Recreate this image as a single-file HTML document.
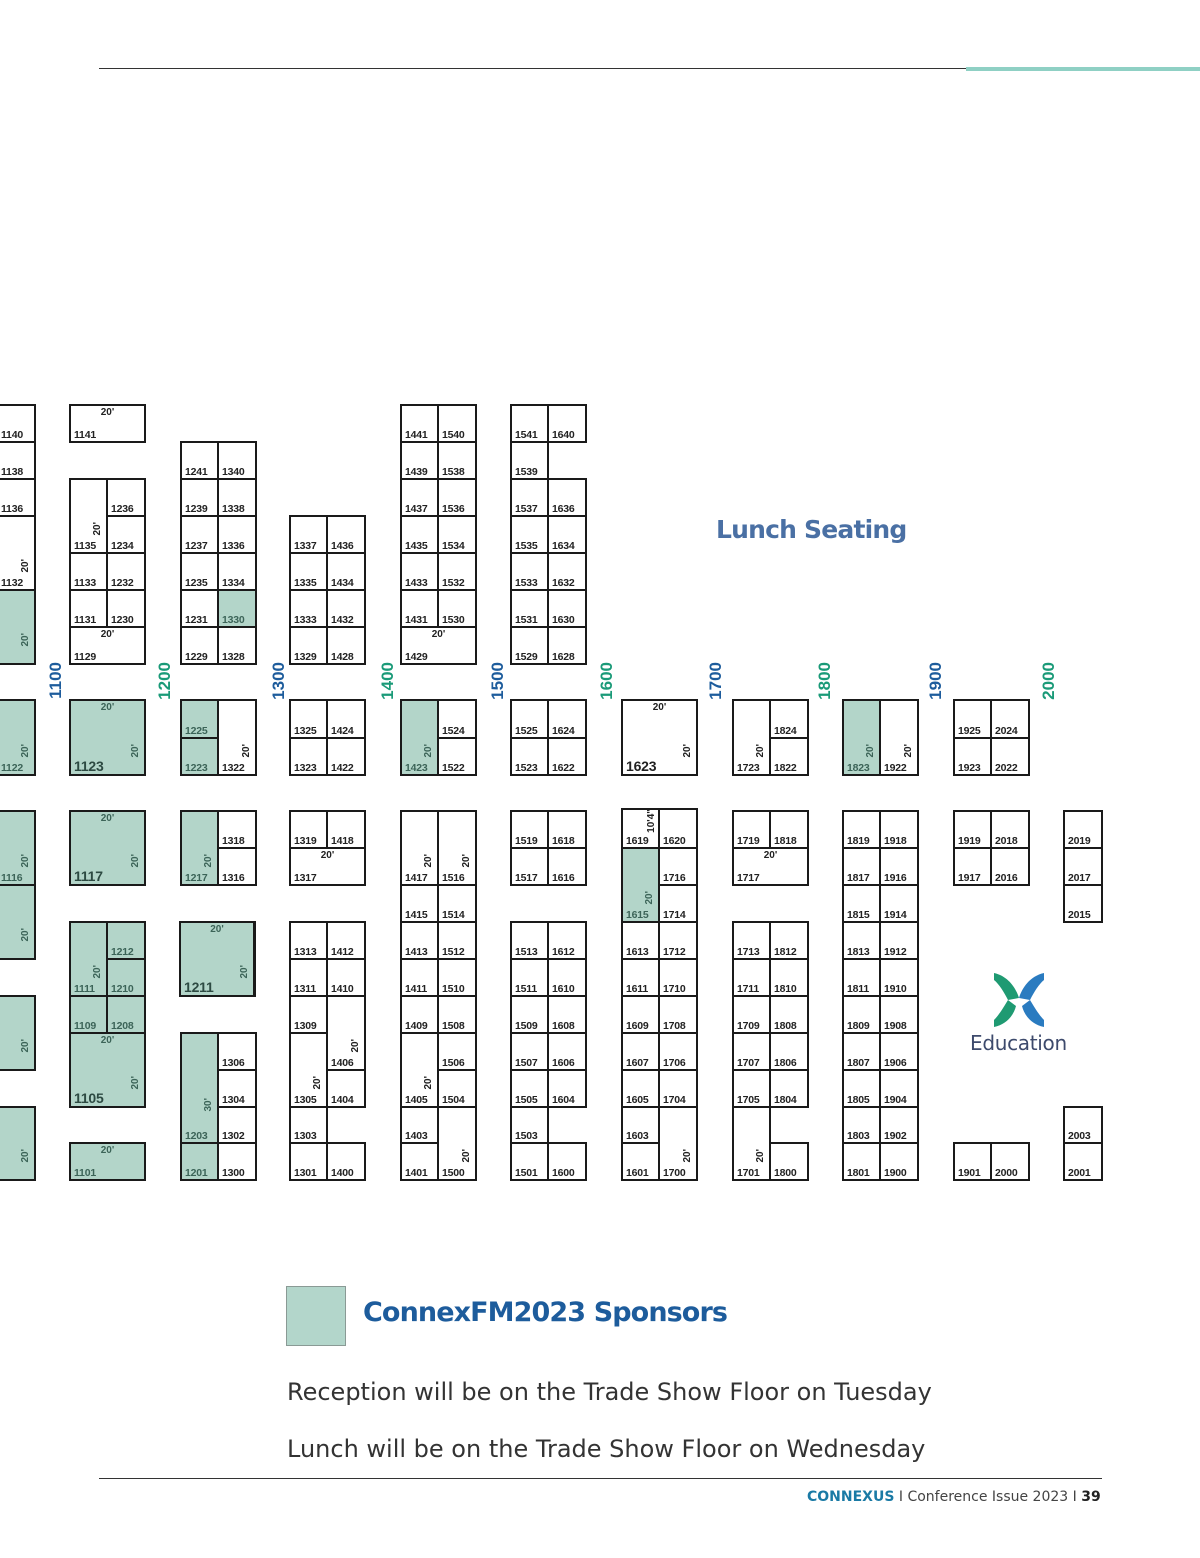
<!DOCTYPE html>
<html><head><meta charset="utf-8"><style>
html,body{margin:0;padding:0;background:#fff}
body{width:1200px;height:1558px;position:relative;overflow:hidden;font-family:"Liberation Sans",sans-serif}
.b{position:absolute;box-sizing:border-box;border:1px solid #1a1a1a;box-shadow:0 0 0 1px #1a1a1a;background:#fff}
.g{background:#b3d5c9}
.b i{position:absolute;left:3px;bottom:0px;font:bold 10.5px "Liberation Sans",sans-serif;font-style:normal;letter-spacing:-0.2px;color:#222;line-height:12px}
.g i{color:#3c6458}
.b i.L{font-size:14px;line-height:16px;color:#2d4a42}
.dt{position:absolute;left:0;right:0;top:1px;text-align:center;font:bold 10px "Liberation Sans",sans-serif;color:#222}
.dv{position:absolute;right:3px;bottom:16px;writing-mode:vertical-rl;transform:rotate(180deg);font:bold 10px "Liberation Sans",sans-serif;color:#222}
.g .dt,.g .dv{color:#3c6458}
.a{position:absolute;font:bold 17px "Liberation Sans",sans-serif;writing-mode:vertical-rl;transform:rotate(180deg);top:662px}
.bl{color:#1d5c9c}.tl{color:#1a9a78}
.x{position:absolute}
</style></head><body>
<div class="x" style="left:99px;top:68px;width:867px;height:1px;background:#333"></div>
<div class="x" style="left:966px;top:67px;width:234px;height:4px;background:#8fd0c4"></div>

<!-- Col A -->
<div class="b" style="left:-3px;top:405px;width:38px;height:37px"><i>1140</i></div>
<div class="b" style="left:-3px;top:442px;width:38px;height:37px"><i>1138</i></div>
<div class="b" style="left:-3px;top:479px;width:38px;height:37px"><i>1136</i></div>
<div class="b" style="left:-3px;top:516px;width:38px;height:74px"><i>1132</i><span class="dv">20'</span></div>
<div class="b g" style="left:-3px;top:590px;width:38px;height:74px"><span class="dv">20'</span></div>
<div class="b g" style="left:-3px;top:700px;width:38px;height:75px"><i>1122</i><span class="dv">20'</span></div>
<div class="b g" style="left:-3px;top:811px;width:38px;height:74px"><i>1116</i><span class="dv">20'</span></div>
<div class="b g" style="left:-3px;top:885px;width:38px;height:74px"><span class="dv">20'</span></div>
<div class="b g" style="left:-3px;top:996px;width:38px;height:74px"><span class="dv">20'</span></div>
<div class="b g" style="left:-3px;top:1107px;width:38px;height:73px"><span class="dv">20'</span></div>

<!-- Col 1100 -->
<div class="b" style="left:70px;top:405px;width:75px;height:37px"><i>1141</i><span class="dt">20'</span></div>
<div class="b" style="left:70px;top:479px;width:37px;height:74px"><i>1135</i><span class="dv">20'</span></div>
<div class="b" style="left:107px;top:479px;width:38px;height:37px"><i>1236</i></div>
<div class="b" style="left:107px;top:516px;width:38px;height:37px"><i>1234</i></div>
<div class="b" style="left:70px;top:553px;width:37px;height:37px"><i>1133</i></div>
<div class="b" style="left:107px;top:553px;width:38px;height:37px"><i>1232</i></div>
<div class="b" style="left:70px;top:590px;width:37px;height:37px"><i>1131</i></div>
<div class="b" style="left:107px;top:590px;width:38px;height:37px"><i>1230</i></div>
<div class="b" style="left:70px;top:627px;width:75px;height:37px"><i>1129</i><span class="dt">20'</span></div>
<div class="b g" style="left:70px;top:700px;width:75px;height:75px"><i class="L">1123</i><span class="dt">20'</span><span class="dv">20'</span></div>
<div class="b g" style="left:70px;top:811px;width:75px;height:74px"><i class="L">1117</i><span class="dt">20'</span><span class="dv">20'</span></div>
<div class="b g" style="left:70px;top:922px;width:37px;height:74px"><i>1111</i><span class="dv">20'</span></div>
<div class="b g" style="left:107px;top:922px;width:38px;height:37px"><i>1212</i></div>
<div class="b g" style="left:107px;top:959px;width:38px;height:37px"><i>1210</i></div>
<div class="b g" style="left:70px;top:996px;width:37px;height:37px"><i>1109</i></div>
<div class="b g" style="left:107px;top:996px;width:38px;height:37px"><i>1208</i></div>
<div class="b g" style="left:70px;top:1033px;width:75px;height:74px"><i class="L">1105</i><span class="dt">20'</span><span class="dv">20'</span></div>
<div class="b g" style="left:70px;top:1143px;width:75px;height:37px"><i>1101</i><span class="dt">20'</span></div>

<!-- Col 1200 -->
<div class="b" style="left:181px;top:442px;width:37px;height:37px"><i>1241</i></div>
<div class="b" style="left:218px;top:442px;width:38px;height:37px"><i>1340</i></div>
<div class="b" style="left:181px;top:479px;width:37px;height:37px"><i>1239</i></div>
<div class="b" style="left:218px;top:479px;width:38px;height:37px"><i>1338</i></div>
<div class="b" style="left:181px;top:516px;width:37px;height:37px"><i>1237</i></div>
<div class="b" style="left:218px;top:516px;width:38px;height:37px"><i>1336</i></div>
<div class="b" style="left:181px;top:553px;width:37px;height:37px"><i>1235</i></div>
<div class="b" style="left:218px;top:553px;width:38px;height:37px"><i>1334</i></div>
<div class="b" style="left:181px;top:590px;width:37px;height:37px"><i>1231</i></div>
<div class="b g" style="left:218px;top:590px;width:38px;height:37px"><i>1330</i></div>
<div class="b" style="left:181px;top:627px;width:37px;height:37px"><i>1229</i></div>
<div class="b" style="left:218px;top:627px;width:38px;height:37px"><i>1328</i></div>
<div class="b g" style="left:181px;top:700px;width:37px;height:38px"><i>1225</i></div>
<div class="b g" style="left:181px;top:738px;width:37px;height:37px"><i>1223</i></div>
<div class="b" style="left:218px;top:700px;width:38px;height:75px"><i>1322</i><span class="dv">20'</span></div>
<div class="b g" style="left:181px;top:811px;width:37px;height:74px"><i>1217</i><span class="dv">20'</span></div>
<div class="b" style="left:218px;top:811px;width:38px;height:37px"><i>1318</i></div>
<div class="b" style="left:218px;top:848px;width:38px;height:37px"><i>1316</i></div>
<div class="b g" style="left:180px;top:922px;width:75px;height:74px;border-right-width:2px"><i class="L">1211</i><span class="dt">20'</span><span class="dv">20'</span></div>
<div class="b g" style="left:181px;top:1033px;width:37px;height:110px"><i>1203</i><span class="dv" style="bottom:30px">30'</span></div>
<div class="b g" style="left:181px;top:1143px;width:37px;height:37px"><i>1201</i></div>
<div class="b" style="left:218px;top:1033px;width:38px;height:37px"><i>1306</i></div>
<div class="b" style="left:218px;top:1070px;width:38px;height:37px"><i>1304</i></div>
<div class="b" style="left:218px;top:1107px;width:38px;height:36px"><i>1302</i></div>
<div class="b" style="left:218px;top:1143px;width:38px;height:37px"><i>1300</i></div>

<!-- Col 1300 -->
<div class="b" style="left:290px;top:516px;width:37px;height:37px"><i>1337</i></div>
<div class="b" style="left:327px;top:516px;width:38px;height:37px"><i>1436</i></div>
<div class="b" style="left:290px;top:553px;width:37px;height:37px"><i>1335</i></div>
<div class="b" style="left:327px;top:553px;width:38px;height:37px"><i>1434</i></div>
<div class="b" style="left:290px;top:590px;width:37px;height:37px"><i>1333</i></div>
<div class="b" style="left:327px;top:590px;width:38px;height:37px"><i>1432</i></div>
<div class="b" style="left:290px;top:627px;width:37px;height:37px"><i>1329</i></div>
<div class="b" style="left:327px;top:627px;width:38px;height:37px"><i>1428</i></div>
<div class="b" style="left:290px;top:700px;width:37px;height:38px"><i>1325</i></div>
<div class="b" style="left:327px;top:700px;width:38px;height:38px"><i>1424</i></div>
<div class="b" style="left:290px;top:738px;width:37px;height:37px"><i>1323</i></div>
<div class="b" style="left:327px;top:738px;width:38px;height:37px"><i>1422</i></div>
<div class="b" style="left:290px;top:811px;width:37px;height:37px"><i>1319</i></div>
<div class="b" style="left:327px;top:811px;width:38px;height:37px"><i>1418</i></div>
<div class="b" style="left:290px;top:848px;width:75px;height:37px"><i>1317</i><span class="dt">20'</span></div>
<div class="b" style="left:290px;top:922px;width:37px;height:37px"><i>1313</i></div>
<div class="b" style="left:327px;top:922px;width:38px;height:37px"><i>1412</i></div>
<div class="b" style="left:290px;top:959px;width:37px;height:37px"><i>1311</i></div>
<div class="b" style="left:327px;top:959px;width:38px;height:37px"><i>1410</i></div>
<div class="b" style="left:290px;top:996px;width:37px;height:37px"><i>1309</i></div>
<div class="b" style="left:327px;top:996px;width:38px;height:74px"><i>1406</i><span class="dv">20'</span></div>
<div class="b" style="left:290px;top:1033px;width:37px;height:74px"><i>1305</i><span class="dv">20'</span></div>
<div class="b" style="left:327px;top:1070px;width:38px;height:37px"><i>1404</i></div>
<div class="b" style="left:290px;top:1107px;width:37px;height:36px"><i>1303</i></div>
<div class="b" style="left:290px;top:1143px;width:37px;height:37px"><i>1301</i></div>
<div class="b" style="left:327px;top:1143px;width:38px;height:37px"><i>1400</i></div>

<!-- Col 1400 -->
<div class="b" style="left:401px;top:405px;width:37px;height:37px"><i>1441</i></div>
<div class="b" style="left:438px;top:405px;width:38px;height:37px"><i>1540</i></div>
<div class="b" style="left:401px;top:442px;width:37px;height:37px"><i>1439</i></div>
<div class="b" style="left:438px;top:442px;width:38px;height:37px"><i>1538</i></div>
<div class="b" style="left:401px;top:479px;width:37px;height:37px"><i>1437</i></div>
<div class="b" style="left:438px;top:479px;width:38px;height:37px"><i>1536</i></div>
<div class="b" style="left:401px;top:516px;width:37px;height:37px"><i>1435</i></div>
<div class="b" style="left:438px;top:516px;width:38px;height:37px"><i>1534</i></div>
<div class="b" style="left:401px;top:553px;width:37px;height:37px"><i>1433</i></div>
<div class="b" style="left:438px;top:553px;width:38px;height:37px"><i>1532</i></div>
<div class="b" style="left:401px;top:590px;width:37px;height:37px"><i>1431</i></div>
<div class="b" style="left:438px;top:590px;width:38px;height:37px"><i>1530</i></div>
<div class="b" style="left:401px;top:627px;width:75px;height:37px"><i>1429</i><span class="dt">20'</span></div>
<div class="b g" style="left:401px;top:700px;width:37px;height:75px"><i>1423</i><span class="dv">20'</span></div>
<div class="b" style="left:438px;top:700px;width:38px;height:38px"><i>1524</i></div>
<div class="b" style="left:438px;top:738px;width:38px;height:37px"><i>1522</i></div>
<div class="b" style="left:401px;top:811px;width:37px;height:74px"><i>1417</i><span class="dv">20'</span></div>
<div class="b" style="left:438px;top:811px;width:38px;height:74px"><i>1516</i><span class="dv">20'</span></div>
<div class="b" style="left:401px;top:885px;width:37px;height:37px"><i>1415</i></div>
<div class="b" style="left:438px;top:885px;width:38px;height:37px"><i>1514</i></div>
<div class="b" style="left:401px;top:922px;width:37px;height:37px"><i>1413</i></div>
<div class="b" style="left:438px;top:922px;width:38px;height:37px"><i>1512</i></div>
<div class="b" style="left:401px;top:959px;width:37px;height:37px"><i>1411</i></div>
<div class="b" style="left:438px;top:959px;width:38px;height:37px"><i>1510</i></div>
<div class="b" style="left:401px;top:996px;width:37px;height:37px"><i>1409</i></div>
<div class="b" style="left:438px;top:996px;width:38px;height:37px"><i>1508</i></div>
<div class="b" style="left:401px;top:1033px;width:37px;height:74px"><i>1405</i><span class="dv">20'</span></div>
<div class="b" style="left:438px;top:1033px;width:38px;height:37px"><i>1506</i></div>
<div class="b" style="left:438px;top:1070px;width:38px;height:37px"><i>1504</i></div>
<div class="b" style="left:401px;top:1107px;width:37px;height:36px"><i>1403</i></div>
<div class="b" style="left:401px;top:1143px;width:37px;height:37px"><i>1401</i></div>
<div class="b" style="left:438px;top:1107px;width:38px;height:73px"><i>1500</i><span class="dv">20'</span></div>

<!-- Col 1500 -->
<div class="b" style="left:511px;top:405px;width:37px;height:37px"><i>1541</i></div>
<div class="b" style="left:548px;top:405px;width:38px;height:37px"><i>1640</i></div>
<div class="b" style="left:511px;top:442px;width:37px;height:37px"><i>1539</i></div>
<div class="b" style="left:511px;top:479px;width:37px;height:37px"><i>1537</i></div>
<div class="b" style="left:548px;top:479px;width:38px;height:37px"><i>1636</i></div>
<div class="b" style="left:511px;top:516px;width:37px;height:37px"><i>1535</i></div>
<div class="b" style="left:548px;top:516px;width:38px;height:37px"><i>1634</i></div>
<div class="b" style="left:511px;top:553px;width:37px;height:37px"><i>1533</i></div>
<div class="b" style="left:548px;top:553px;width:38px;height:37px"><i>1632</i></div>
<div class="b" style="left:511px;top:590px;width:37px;height:37px"><i>1531</i></div>
<div class="b" style="left:548px;top:590px;width:38px;height:37px"><i>1630</i></div>
<div class="b" style="left:511px;top:627px;width:37px;height:37px"><i>1529</i></div>
<div class="b" style="left:548px;top:627px;width:38px;height:37px"><i>1628</i></div>
<div class="b" style="left:511px;top:700px;width:37px;height:38px"><i>1525</i></div>
<div class="b" style="left:548px;top:700px;width:38px;height:38px"><i>1624</i></div>
<div class="b" style="left:511px;top:738px;width:37px;height:37px"><i>1523</i></div>
<div class="b" style="left:548px;top:738px;width:38px;height:37px"><i>1622</i></div>
<div class="b" style="left:511px;top:811px;width:37px;height:37px"><i>1519</i></div>
<div class="b" style="left:548px;top:811px;width:38px;height:37px"><i>1618</i></div>
<div class="b" style="left:511px;top:848px;width:37px;height:37px"><i>1517</i></div>
<div class="b" style="left:548px;top:848px;width:38px;height:37px"><i>1616</i></div>
<div class="b" style="left:511px;top:922px;width:37px;height:37px"><i>1513</i></div>
<div class="b" style="left:548px;top:922px;width:38px;height:37px"><i>1612</i></div>
<div class="b" style="left:511px;top:959px;width:37px;height:37px"><i>1511</i></div>
<div class="b" style="left:548px;top:959px;width:38px;height:37px"><i>1610</i></div>
<div class="b" style="left:511px;top:996px;width:37px;height:37px"><i>1509</i></div>
<div class="b" style="left:548px;top:996px;width:38px;height:37px"><i>1608</i></div>
<div class="b" style="left:511px;top:1033px;width:37px;height:37px"><i>1507</i></div>
<div class="b" style="left:548px;top:1033px;width:38px;height:37px"><i>1606</i></div>
<div class="b" style="left:511px;top:1070px;width:37px;height:37px"><i>1505</i></div>
<div class="b" style="left:548px;top:1070px;width:38px;height:37px"><i>1604</i></div>
<div class="b" style="left:511px;top:1107px;width:37px;height:36px"><i>1503</i></div>
<div class="b" style="left:511px;top:1143px;width:37px;height:37px"><i>1501</i></div>
<div class="b" style="left:548px;top:1143px;width:38px;height:37px"><i>1600</i></div>

<!-- Col 1600 -->
<div class="b" style="left:622px;top:700px;width:75px;height:75px"><i class="L" style="color:#222">1623</i><span class="dt">20'</span><span class="dv">20'</span></div>
<div class="b" style="left:622px;top:809px;width:37px;height:39px"><i>1619</i><span class="dv" style="bottom:14px;right:1px">10'4"</span></div>
<div class="b" style="left:659px;top:809px;width:38px;height:39px"><i>1620</i></div>
<div class="b g" style="left:622px;top:848px;width:37px;height:74px"><i>1615</i><span class="dv">20'</span></div>
<div class="b" style="left:659px;top:848px;width:38px;height:37px"><i>1716</i></div>
<div class="b" style="left:659px;top:885px;width:38px;height:37px"><i>1714</i></div>
<div class="b" style="left:622px;top:922px;width:37px;height:37px"><i>1613</i></div>
<div class="b" style="left:659px;top:922px;width:38px;height:37px"><i>1712</i></div>
<div class="b" style="left:622px;top:959px;width:37px;height:37px"><i>1611</i></div>
<div class="b" style="left:659px;top:959px;width:38px;height:37px"><i>1710</i></div>
<div class="b" style="left:622px;top:996px;width:37px;height:37px"><i>1609</i></div>
<div class="b" style="left:659px;top:996px;width:38px;height:37px"><i>1708</i></div>
<div class="b" style="left:622px;top:1033px;width:37px;height:37px"><i>1607</i></div>
<div class="b" style="left:659px;top:1033px;width:38px;height:37px"><i>1706</i></div>
<div class="b" style="left:622px;top:1070px;width:37px;height:37px"><i>1605</i></div>
<div class="b" style="left:659px;top:1070px;width:38px;height:37px"><i>1704</i></div>
<div class="b" style="left:622px;top:1107px;width:37px;height:36px"><i>1603</i></div>
<div class="b" style="left:622px;top:1143px;width:37px;height:37px"><i>1601</i></div>
<div class="b" style="left:659px;top:1107px;width:38px;height:73px"><i>1700</i><span class="dv">20'</span></div>

<!-- Col 1700 -->
<div class="b" style="left:733px;top:700px;width:37px;height:75px"><i>1723</i><span class="dv">20'</span></div>
<div class="b" style="left:770px;top:700px;width:38px;height:38px"><i>1824</i></div>
<div class="b" style="left:770px;top:738px;width:38px;height:37px"><i>1822</i></div>
<div class="b" style="left:733px;top:811px;width:37px;height:37px"><i>1719</i></div>
<div class="b" style="left:770px;top:811px;width:38px;height:37px"><i>1818</i></div>
<div class="b" style="left:733px;top:848px;width:75px;height:37px"><i>1717</i><span class="dt">20'</span></div>
<div class="b" style="left:733px;top:922px;width:37px;height:37px"><i>1713</i></div>
<div class="b" style="left:770px;top:922px;width:38px;height:37px"><i>1812</i></div>
<div class="b" style="left:733px;top:959px;width:37px;height:37px"><i>1711</i></div>
<div class="b" style="left:770px;top:959px;width:38px;height:37px"><i>1810</i></div>
<div class="b" style="left:733px;top:996px;width:37px;height:37px"><i>1709</i></div>
<div class="b" style="left:770px;top:996px;width:38px;height:37px"><i>1808</i></div>
<div class="b" style="left:733px;top:1033px;width:37px;height:37px"><i>1707</i></div>
<div class="b" style="left:770px;top:1033px;width:38px;height:37px"><i>1806</i></div>
<div class="b" style="left:733px;top:1070px;width:37px;height:37px"><i>1705</i></div>
<div class="b" style="left:770px;top:1070px;width:38px;height:37px"><i>1804</i></div>
<div class="b" style="left:733px;top:1107px;width:37px;height:73px"><i>1701</i><span class="dv">20'</span></div>
<div class="b" style="left:770px;top:1143px;width:38px;height:37px"><i>1800</i></div>

<!-- Col 1800 -->
<div class="b g" style="left:843px;top:700px;width:37px;height:75px"><i>1823</i><span class="dv">20'</span></div>
<div class="b" style="left:880px;top:700px;width:38px;height:75px"><i>1922</i><span class="dv">20'</span></div>
<div class="b" style="left:843px;top:811px;width:37px;height:37px"><i>1819</i></div>
<div class="b" style="left:880px;top:811px;width:38px;height:37px"><i>1918</i></div>
<div class="b" style="left:843px;top:848px;width:37px;height:37px"><i>1817</i></div>
<div class="b" style="left:880px;top:848px;width:38px;height:37px"><i>1916</i></div>
<div class="b" style="left:843px;top:885px;width:37px;height:37px"><i>1815</i></div>
<div class="b" style="left:880px;top:885px;width:38px;height:37px"><i>1914</i></div>
<div class="b" style="left:843px;top:922px;width:37px;height:37px"><i>1813</i></div>
<div class="b" style="left:880px;top:922px;width:38px;height:37px"><i>1912</i></div>
<div class="b" style="left:843px;top:959px;width:37px;height:37px"><i>1811</i></div>
<div class="b" style="left:880px;top:959px;width:38px;height:37px"><i>1910</i></div>
<div class="b" style="left:843px;top:996px;width:37px;height:37px"><i>1809</i></div>
<div class="b" style="left:880px;top:996px;width:38px;height:37px"><i>1908</i></div>
<div class="b" style="left:843px;top:1033px;width:37px;height:37px"><i>1807</i></div>
<div class="b" style="left:880px;top:1033px;width:38px;height:37px"><i>1906</i></div>
<div class="b" style="left:843px;top:1070px;width:37px;height:37px"><i>1805</i></div>
<div class="b" style="left:880px;top:1070px;width:38px;height:37px"><i>1904</i></div>
<div class="b" style="left:843px;top:1107px;width:37px;height:36px"><i>1803</i></div>
<div class="b" style="left:880px;top:1107px;width:38px;height:36px"><i>1902</i></div>
<div class="b" style="left:843px;top:1143px;width:37px;height:37px"><i>1801</i></div>
<div class="b" style="left:880px;top:1143px;width:38px;height:37px"><i>1900</i></div>

<!-- Col 1900 -->
<div class="b" style="left:954px;top:700px;width:37px;height:38px"><i>1925</i></div>
<div class="b" style="left:991px;top:700px;width:38px;height:38px"><i>2024</i></div>
<div class="b" style="left:954px;top:738px;width:37px;height:37px"><i>1923</i></div>
<div class="b" style="left:991px;top:738px;width:38px;height:37px"><i>2022</i></div>
<div class="b" style="left:954px;top:811px;width:37px;height:37px"><i>1919</i></div>
<div class="b" style="left:991px;top:811px;width:38px;height:37px"><i>2018</i></div>
<div class="b" style="left:954px;top:848px;width:37px;height:37px"><i>1917</i></div>
<div class="b" style="left:991px;top:848px;width:38px;height:37px"><i>2016</i></div>
<div class="b" style="left:954px;top:1143px;width:37px;height:37px"><i>1901</i></div>
<div class="b" style="left:991px;top:1143px;width:38px;height:37px"><i>2000</i></div>

<!-- Col 2000 -->
<div class="b" style="left:1064px;top:811px;width:38px;height:37px"><i>2019</i></div>
<div class="b" style="left:1064px;top:848px;width:38px;height:37px"><i>2017</i></div>
<div class="b" style="left:1064px;top:885px;width:38px;height:37px"><i>2015</i></div>
<div class="b" style="left:1064px;top:1107px;width:38px;height:36px"><i>2003</i></div>
<div class="b" style="left:1064px;top:1143px;width:38px;height:37px"><i>2001</i></div>

<!-- aisle labels -->
<div class="a bl" style="left:46px">1100</div>
<div class="a tl" style="left:155px">1200</div>
<div class="a bl" style="left:269px">1300</div>
<div class="a tl" style="left:378px">1400</div>
<div class="a bl" style="left:488px">1500</div>
<div class="a tl" style="left:597px">1600</div>
<div class="a bl" style="left:706px">1700</div>
<div class="a tl" style="left:815px">1800</div>
<div class="a bl" style="left:926px">1900</div>
<div class="a tl" style="left:1039px">2000</div>

<div class="x" style="left:716px;top:515px;font:bold 25px 'DejaVu Sans',sans-serif;color:#4a70a4;letter-spacing:-0.8px">Lunch Seating</div>

<svg class="x" style="left:990px;top:970px" width="58" height="60" viewBox="0 0 58 60">
<path d="M4 3 C18 6 26 18 29 28 L18 30 C14 22 9 14 4 10Z" fill="#1f9a72"/>
<path d="M54 3 C40 6 32 18 29 28 L40 30 C44 22 49 14 54 10Z" fill="#2a7bc0"/>
<path d="M4 57 C18 54 24 44 26 36 L18 30 C12 40 8 46 4 50Z" fill="#1f9a72"/>
<path d="M54 57 C40 54 34 44 32 36 L40 30 C46 40 50 46 54 50Z" fill="#2a7bc0"/>
</svg>
<div class="x" style="left:970px;top:1031px;font:20px 'DejaVu Sans',sans-serif;color:#3d4a6c;letter-spacing:-0.3px">Education</div>

<div class="x" style="left:286px;top:1286px;width:58px;height:58px;background:#b3d6cb;border:1.5px solid #8a9a95"></div>
<div class="x" style="left:363px;top:1297px;font:bold 27px 'DejaVu Sans',sans-serif;color:#1d5c9c;letter-spacing:-0.9px">ConnexFM2023 Sponsors</div>
<div class="x" style="left:287px;top:1378px;font:24px 'DejaVu Sans',sans-serif;color:#333;letter-spacing:0px">Reception will be on the Trade Show Floor on Tuesday</div>
<div class="x" style="left:287px;top:1435px;font:24px 'DejaVu Sans',sans-serif;color:#333;letter-spacing:0px">Lunch will be on the Trade Show Floor on Wednesday</div>

<div class="x" style="left:99px;top:1478px;width:1003px;height:1px;background:#333"></div>
<div class="x" style="left:807px;top:1489px;font:14px 'DejaVu Sans',sans-serif;color:#444;white-space:nowrap"><b style="color:#1a7aa5">CONNEXUS</b> I Conference Issue 2023 I <b style="color:#222">39</b></div>
</body></html>
